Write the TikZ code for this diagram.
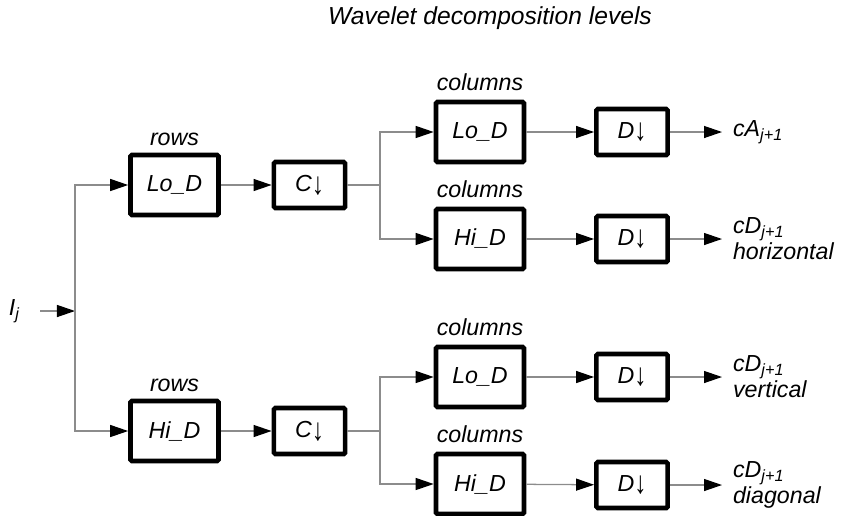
\documentclass[tikz,border=0pt]{standalone}
\usepackage{fontspec}
\setmainfont{Liberation Sans}
\usetikzlibrary{positioning, arrows.meta, calc}
\usepackage{xcolor}
\definecolor{wvline}{HTML}{8C8C8C}
\definecolor{wvbox}{HTML}{000000}
\newcommand{\dnarr}{\raisebox{-0.12em}{\scalebox{1.05}[1.35]{↓}}}

\begin{document}
\begin{tikzpicture}[x=0.025cm, y=-0.025cm,
    font=\fontsize{16.5}{18.5}\selectfont\itshape,
    filt/.style={draw=wvbox, line width=3.3pt, rounded corners=1pt,
                 minimum width=2.2cm, minimum height=1.5cm, inner sep=0pt},
    samp/.style={filt, minimum width=1.78cm, minimum height=1.15cm},
    tag/.style={inner sep=0pt},
    outl/.style={anchor=west, inner xsep=0.27cm, inner ysep=1pt, align=left},
    wire/.style={draw=wvline, line width=0.9pt},
    arr/.style={wire, -{Triangle[length=4.5mm, width=3mm, color=black]}}]
    \useasboundingbox (0,0) rectangle (845,515);

    \node (title) at (490,18) {\fontsize{17.5}{20}\selectfont Wavelet decomposition levels};

    % input
    \node[anchor=east, inner xsep=0.5cm] (img) at (40,311) {I\textsubscript{j}};
    \coordinate (split) at (75,311);

    % rows
    \node[filt] (rlo) at (174.5,185) {Lo\_D};
    \node[filt] (rhi) at (174.5,431) {Hi\_D};
    \node[tag, above=5pt of rlo] (rlotag) {rows};
    \node[tag, above=5pt of rhi] (rhitag) {rows};
    \node[samp] (clo) at (309.5,185) {C\dnarr};
    \node[samp] (chi) at (309.5,431) {C\dnarr};
    \coordinate (tlo) at (380,185);
    \coordinate (thi) at (380,431);

    % columns
    \node[filt] (clolo) at (480,132) {Lo\_D};
    \node[filt] (clohi) at (480,239) {Hi\_D};
    \node[filt] (chilo) at (480,377) {Lo\_D};
    \node[filt] (chihi) at (480,484) {Hi\_D};
    \node[tag, above=6pt of clolo] (clolotag) {columns};
    \node[tag, above=6pt of clohi] (clohitag) {columns};
    \node[tag, above=6pt of chilo] (chilotag) {columns};
    \node[tag, above=6pt of chihi] (chihitag) {columns};
    \node[samp] (dll) at (632,132) {D\dnarr};
    \node[samp] (dlh) at (632,239) {D\dnarr};
    \node[samp] (dhl) at (632,377) {D\dnarr};
    \node[samp] (dhh) at (632,485) {D\dnarr};

    % outputs
    \node[outl] (oll) at (722,132) {cA\textsubscript{j+1}};
    \node[outl] (olh) at (722,239) {cD\textsubscript{j+1}\\horizontal};
    \node[outl] (ohl) at (722,377) {cD\textsubscript{j+1}\\vertical};
    \node[outl] (ohh) at (722,485) {cD\textsubscript{j+1}\\diagonal};

    \draw[arr] (img) -- (split);
    \draw[arr] (split) |- (rlo);
    \draw[arr] (split) |- (rhi);
    \draw[arr] (rlo) -- (clo);
    \draw[arr] (rhi) -- (chi);
    \draw[wire] (clo) -- (tlo);
    \draw[wire] (chi) -- (thi);
    \draw[arr] (tlo) |- (clolo);
    \draw[arr] (tlo) |- (clohi);
    \draw[arr] (thi) |- (chilo);
    \draw[arr] (thi) |- (chihi);
    \draw[arr] (clolo) -- (dll);
    \draw[arr] (clohi) -- (dlh);
    \draw[arr] (chilo) -- (dhl);
    \draw[arr] (chihi) -- (dhh);
    \draw[arr] (dll) -- (oll);
    \draw[arr] (dlh) -- (olh);
    \draw[arr] (dhl) -- (ohl);
    \draw[arr] (dhh) -- (ohh);
\end{tikzpicture}
\end{document}
